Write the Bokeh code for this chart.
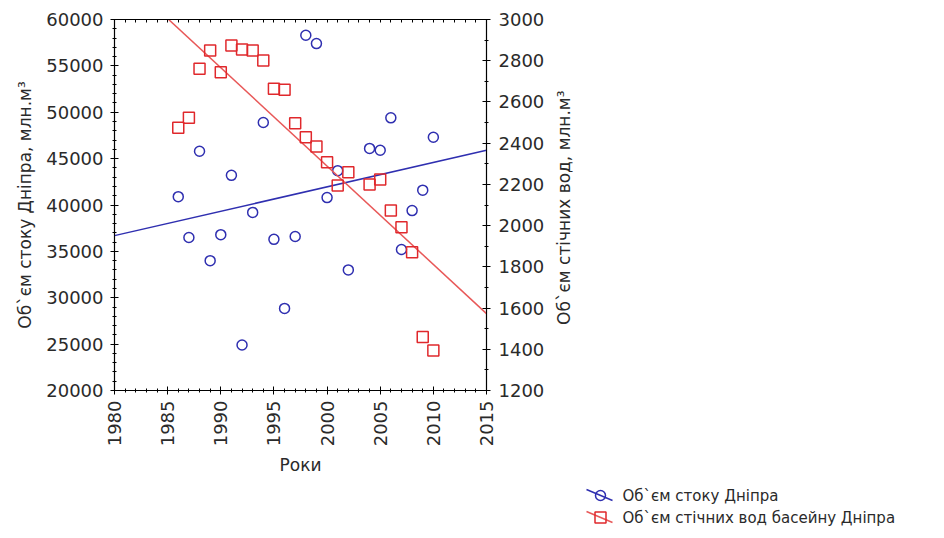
from bokeh.plotting import figure
from bokeh.layouts import row
from bokeh.models import Range1d, LinearAxis, SingleIntervalTicker, FixedTicker
from bokeh.core.properties import value
from bokeh.embed import file_html
from bokeh.resources import INLINE
from math import pi

# --- data ---
flow_years = [1986, 1987, 1988, 1989, 1990, 1991, 1992, 1993, 1994, 1995, 1996, 1997,
              1998, 1999, 2000, 2001, 2002, 2004, 2005, 2006, 2007, 2008, 2009, 2010]
flow_values = [40900, 36500, 45800, 34000, 36800, 43200, 24900, 39200, 48900, 36300, 28850, 36600,
               58300, 57400, 40800, 43700, 33000, 46100, 45900, 49400, 35200, 39400, 41600, 47300]

waste_years = [1986, 1987, 1988, 1989, 1990, 1991, 1992, 1993, 1994, 1995, 1996, 1997,
               1998, 1999, 2000, 2001, 2002, 2004, 2005, 2006, 2007, 2008, 2009, 2010]
waste_values = [2475, 2523, 2761, 2850, 2744, 2874, 2854, 2850, 2801, 2664, 2659, 2497,
                2429, 2384, 2308, 2195, 2259, 2199, 2224, 2073, 1992, 1871, 1459, 1394]

trend_years = [1980, 2015]
flow_trend = [36700, 45900]
waste_trend = [3243, 1573]

x_axis_name = "Роки"
left_label = "Об`єм стоку Дніпра, млн.м³"
right_label = "Об`єм стічних вод,  млн.м³"
legend_labels = ["Об`єм стоку Дніпра", "Об`єм стічних вод басейну Дніпра"]

FONT = "DejaVu Sans"
TXT = "#2a2a2a"
BLUE = "#2f2fb0"
RED = "#e0282c"
RED_LINE = "#e85858"

p = figure(frame_width=372, frame_height=371, output_backend="svg", toolbar_location=None,
           x_range=Range1d(1980, 2015), y_range=Range1d(20000, 60000),
           min_border_left=114, min_border_right=60, min_border_top=19, min_border_bottom=86)
p.extra_y_ranges = {"waste": Range1d(1200, 3000)}
p.xgrid.visible = False
p.ygrid.visible = False
p.outline_line_color = "black"
p.outline_line_width = 1.2


def style_axis(ax, ticker):
    ax.ticker = ticker
    ax.axis_line_color = "black"
    ax.major_tick_in = 4
    ax.major_tick_out = 4
    ax.minor_tick_in = 2
    ax.minor_tick_out = 2
    ax.major_tick_line_color = "black"
    ax.minor_tick_line_color = "black"
    ax.major_label_text_font = FONT
    ax.major_label_text_font_size = "18px"
    ax.major_label_text_color = TXT
    ax.axis_label_text_font = FONT
    ax.axis_label_text_font_size = "17px"
    ax.axis_label_text_font_style = "normal"
    ax.axis_label_text_color = TXT


xax = p.xaxis[0]
style_axis(xax, SingleIntervalTicker(interval=5, num_minor_ticks=5))
xax.major_label_orientation = pi / 2
xax.axis_label = x_axis_name
xax.major_label_standoff = 6
xax.axis_label_standoff = 6

yax = p.yaxis[0]
style_axis(yax, SingleIntervalTicker(interval=5000, num_minor_ticks=5))
yax.axis_label = left_label
yax.major_label_standoff = 7
yax.axis_label_standoff = 8

rax = LinearAxis(y_range_name="waste")
style_axis(rax, SingleIntervalTicker(interval=200, num_minor_ticks=2))
rax.major_label_standoff = 8
p.add_layout(rax, "right")

tax = LinearAxis()
style_axis(tax, FixedTicker(ticks=[], minor_ticks=list(range(1980, 2016))))
tax.major_tick_out = 0
tax.minor_tick_out = 0
tax.minor_tick_in = 3
p.add_layout(tax, "above")

p.line(trend_years, flow_trend, line_color=BLUE, line_width=1.5)
p.scatter(flow_years, flow_values, marker="circle", size=10, fill_color=None,
          line_color=BLUE, line_width=1.5)
p.line(trend_years, waste_trend, line_color=RED_LINE, line_width=1.5, y_range_name="waste")
p.scatter(waste_years, waste_values, marker="square", size=11, fill_color=None,
          line_color=RED, line_width=1.5, y_range_name="waste")

# narrow strip carrying the right-hand axis title (reads bottom to top)
p3 = figure(frame_width=10, frame_height=371, output_backend="svg", toolbar_location=None,
            x_range=Range1d(0, 1), y_range=Range1d(0, 1), x_axis_type=None,
            min_border_left=26, min_border_right=0, min_border_top=19, min_border_bottom=86)
p3.xgrid.visible = False
p3.ygrid.visible = False
p3.outline_line_color = None
lab = p3.yaxis[0]
lab.ticker = FixedTicker(ticks=[])
lab.axis_line_color = None
lab.major_tick_line_color = None
lab.minor_tick_line_color = None
lab.major_tick_out = 0
lab.major_tick_in = 0
lab.minor_tick_out = 0
lab.minor_tick_in = 0
lab.major_label_standoff = 0
lab.axis_label = right_label
lab.axis_label_standoff = 0
lab.axis_label_text_font = FONT
lab.axis_label_text_font_size = "17px"
lab.axis_label_text_font_style = "normal"
lab.axis_label_text_color = TXT

# legend strip below the chart (screen-like coordinates)
p2 = figure(width=940, height=58, output_backend="svg", toolbar_location=None,
            x_range=Range1d(0, 940), y_range=Range1d(0, 58), x_axis_type=None, y_axis_type=None,
            min_border=0)
p2.xgrid.visible = False
p2.ygrid.visible = False
p2.outline_line_color = None

row_y = [41, 19]
colors_line = [BLUE, RED_LINE]
colors_mark = [BLUE, RED]
markers = ["circle", "square"]
msizes = [10, 11]
for i in range(2):
    p2.segment(x0=[586], y0=[row_y[i] + 6], x1=[612], y1=[row_y[i] - 5],
               line_color=colors_line[i], line_width=1.5)
    p2.scatter([600], [row_y[i]], marker=markers[i], size=msizes[i], fill_color=None,
               line_color=colors_mark[i], line_width=1.5)
p2.text(x=[622, 622], y=row_y, text=legend_labels, text_font=value(FONT),
        text_font_size=value("15px"), text_color=TXT, text_baseline="middle", text_align="left")

top = row(p, p3, spacing=0)
open("out.html", "w").write(file_html([top, p2], INLINE))
